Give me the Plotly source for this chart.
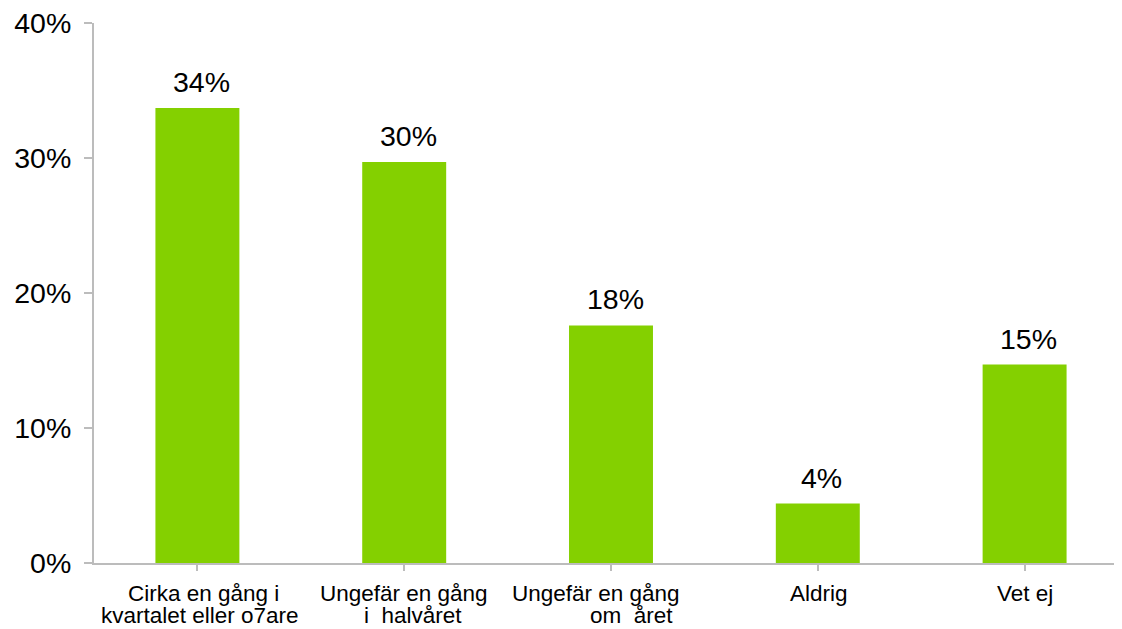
import plotly.graph_objects as go

categories = ["Cirka en gång i<br>kvartalet eller o7are",
              "Ungefär en gång<br>i\u00a0\u00a0halvåret",
              "Ungefär en gång<br>om\u00a0\u00a0året",
              "Aldrig",
              "Vet ej"]
values = [0.337, 0.297, 0.176, 0.044, 0.147]
value_labels = ["34%", "30%", "18%", "4%", "15%"]
y_ticks = [0, 0.1, 0.2, 0.3, 0.4]

# styling: horizontal pixel nudges of each category label line (as in source layout)
LABEL_LINE_XSHIFT = [[6, 3], [0, 9], [-15, 20], [1], [0]]
VALUE_XSHIFT = 4

FONT = "Liberation Sans, Arial, sans-serif"
AXIS = "#bcbcbc"

fig = go.Figure()
fig.add_trace(go.Bar(
    x=list(range(len(categories))), y=values,
    marker=dict(color="#84D000", line=dict(width=0)),
    width=0.406, hoverinfo="skip",
))

# value labels above bars
for i, (v, t) in enumerate(zip(values, value_labels)):
    fig.add_annotation(x=i, y=v, xref="x", yref="y", text=t, showarrow=False,
                       yanchor="bottom", xanchor="center", yshift=8, xshift=VALUE_XSHIFT,
                       font=dict(family=FONT, size=28.5, color="#000000"))

# category labels (line by line for tight line spacing)
for i, c in enumerate(categories):
    for j, line in enumerate(c.split("<br>")):
        fig.add_annotation(x=i, y=0, xref="x", yref="y", text=line,
                           showarrow=False, yanchor="top", xanchor="center",
                           yshift=-17 - 22 * j, xshift=LABEL_LINE_XSHIFT[i][j],
                           borderpad=0,
                           font=dict(family=FONT, size=22.5, color="#000000"))

fig.update_layout(
    width=1122, height=629,
    margin=dict(l=86, r=2, t=15, b=74, autoexpand=False),
    paper_bgcolor="white", plot_bgcolor="white",
    showlegend=False,
    font=dict(family=FONT, color="#000000"),
)
fig.update_xaxes(
    range=[-0.5, 4.5], tickvals=list(range(len(categories))), ticktext=[""] * len(categories),
    showline=True, linecolor=AXIS, linewidth=2,
    ticks="outside", tickson="boundaries", ticklen=6, tickcolor=AXIS, tickwidth=2,
    showgrid=False, zeroline=False, automargin=False,
)
fig.update_yaxes(
    range=[0, 0.4], tickvals=y_ticks, tickformat=".0%",
    showline=True, linecolor=AXIS, linewidth=2,
    ticks="outside", ticklen=8, tickcolor=AXIS, tickwidth=2,
    ticklabelstandoff=7, ticklabeloverflow="allow",
    tickfont=dict(family=FONT, size=28.5, color="#000000"),
    showgrid=False, zeroline=False, automargin=False,
)
fig.write_html("out.html")
